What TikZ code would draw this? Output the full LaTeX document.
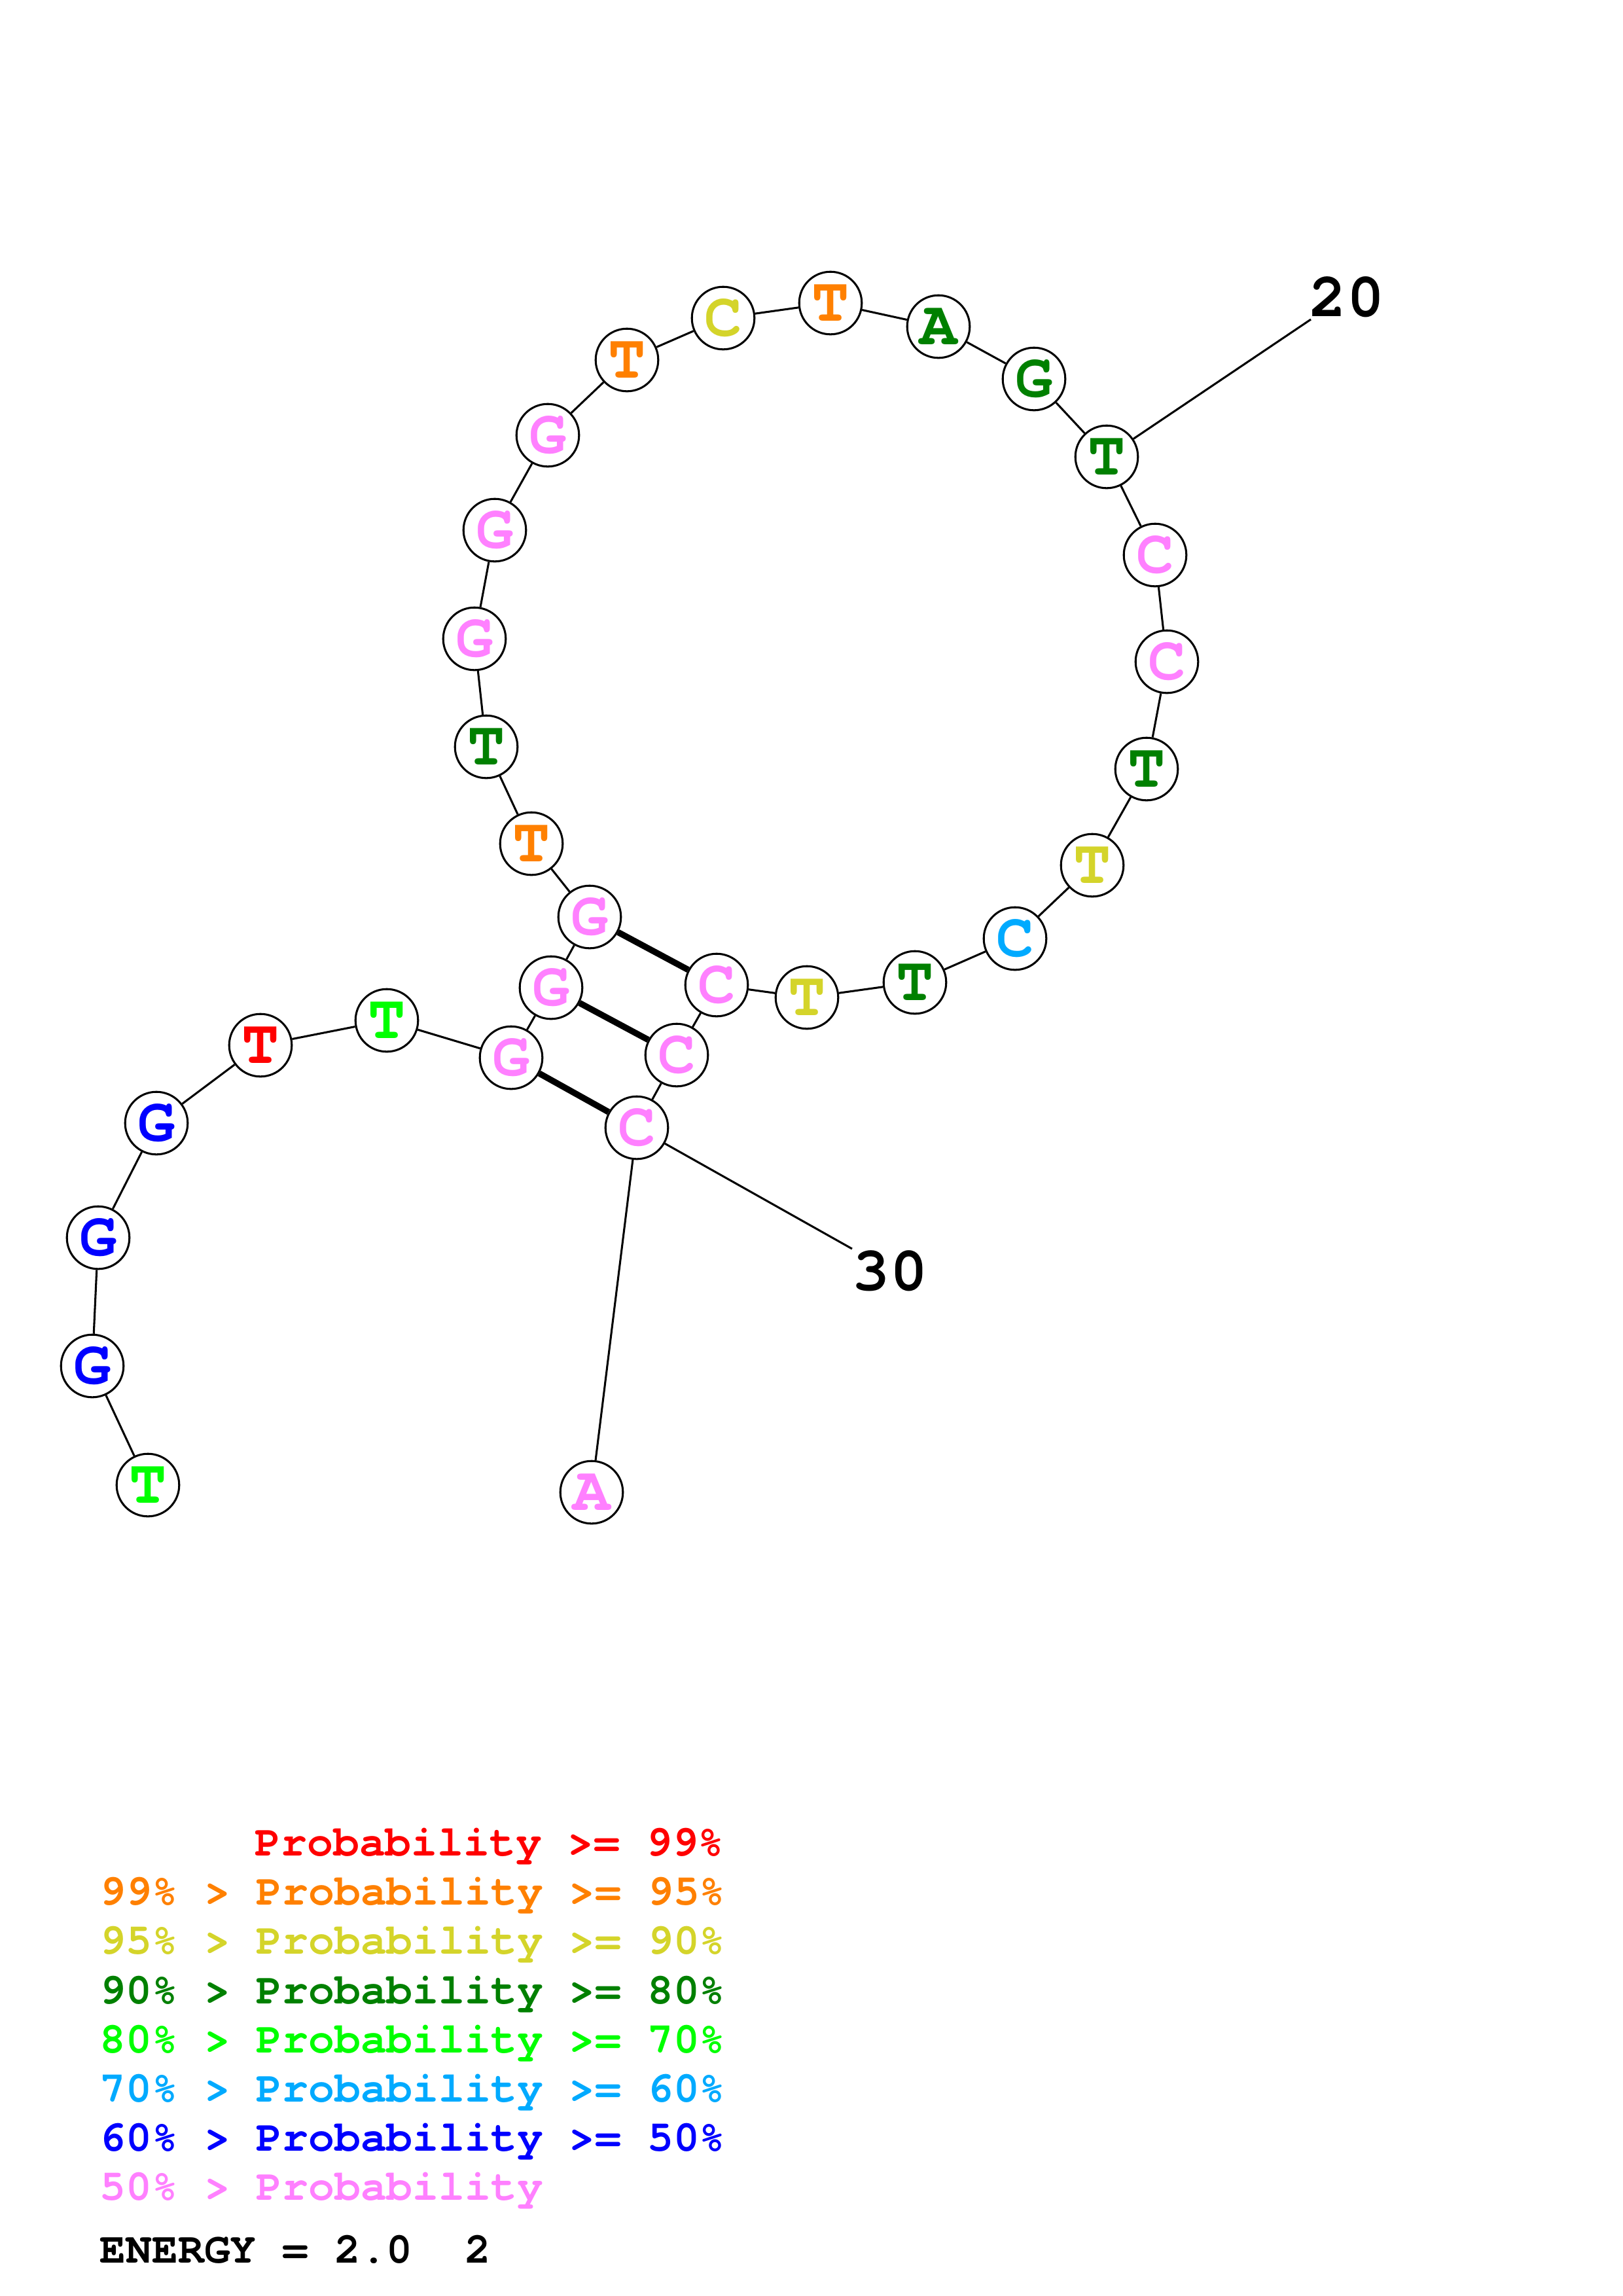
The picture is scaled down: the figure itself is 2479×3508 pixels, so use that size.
\documentclass[tikz,border=0pt]{standalone}
\usepackage{fontspec}
\setmonofont{TeX Gyre Cursor}

\definecolor{pRed}{RGB}{255,0,0}
\definecolor{pOrange}{RGB}{255,128,0}
\definecolor{pYellow}{RGB}{212,212,42}
\definecolor{pDkGreen}{RGB}{0,128,0}
\definecolor{pGreen}{RGB}{0,255,0}
\definecolor{pCyan}{RGB}{0,170,255}
\definecolor{pBlue}{RGB}{0,0,255}
\definecolor{pPink}{RGB}{255,128,255}

\begin{document}
\begin{tikzpicture}[x=0.08471mm,y=-0.08471mm,
    base/.style={circle,draw,fill=white,line width=0.26mm,minimum size=8.1mm,inner sep=0pt,font=\ttfamily\bfseries\fontsize{23}{23}\selectfont},
    numlabel/.style={font=\ttfamily\bfseries\fontsize{23}{23}\selectfont},
    backbone/.style={line width=0.26mm},
    pair/.style={line width=0.8mm},
    legend/.style={anchor=base west,inner sep=0pt,font=\ttfamily\bfseries\fontsize{16}{16}\selectfont}
]
\useasboundingbox (0,0) rectangle (2479,3508);

% Bases 1-31
\node[base,text=pGreen] (n1) at (226,2269) {T};
\node[base,text=pBlue] (n2) at (141,2087) {G};
\node[base,text=pBlue] (n3) at (150,1891) {G};
\node[base,text=pBlue] (n4) at (239,1716) {G};
\node[base,text=pRed] (n5) at (398,1597) {T};
\node[base,text=pGreen] (n6) at (591,1559) {T};
\node[base,text=pPink] (n7) at (781,1616) {G};
\node[base,text=pPink] (n8) at (842,1509) {G};
\node[base,text=pPink] (n9) at (901,1401) {G};
\node[base,text=pOrange] (n10) at (812,1289) {T};
\node[base,text=pDkGreen] (n11) at (743,1141) {T};
\node[base,text=pPink] (n12) at (725,976) {G};
\node[base,text=pPink] (n13) at (756,810) {G};
\node[base,text=pPink] (n14) at (837,665) {G};
\node[base,text=pOrange] (n15) at (958,550) {T};
\node[base,text=pYellow] (n16) at (1105,486) {C};
\node[base,text=pOrange] (n17) at (1269,463) {T};
\node[base,text=pDkGreen] (n18) at (1434,499) {A};
\node[base,text=pDkGreen] (n19) at (1580,579) {G};
\node[base,text=pDkGreen] (n20) at (1691,698) {T};
\node[base,text=pPink] (n21) at (1765,848) {C};
\node[base,text=pPink] (n22) at (1783,1011) {C};
\node[base,text=pDkGreen] (n23) at (1752,1175) {T};
\node[base,text=pYellow] (n24) at (1669,1322) {T};
\node[base,text=pCyan] (n25) at (1551,1434) {C};
\node[base,text=pDkGreen] (n26) at (1398,1501) {T};
\node[base,text=pYellow] (n27) at (1233,1524) {T};
\node[base,text=pPink] (n28) at (1095,1505) {C};
\node[base,text=pPink] (n29) at (1034,1612) {C};
\node[base,text=pPink] (n30) at (973,1723) {C};
\node[base,text=pPink] (n31) at (904,2280) {A};

% Backbone
\draw[backbone] (n1) -- (n2) -- (n3) -- (n4) -- (n5) -- (n6) -- (n7) -- (n8) -- (n9) -- (n10);
\draw[backbone] (n10) -- (n11) -- (n12) -- (n13) -- (n14) -- (n15) -- (n16) -- (n17) -- (n18) -- (n19) -- (n20);
\draw[backbone] (n20) -- (n21) -- (n22) -- (n23) -- (n24) -- (n25) -- (n26) -- (n27) -- (n28) -- (n29) -- (n30);
\draw[backbone] (n30) -- (n31);

% Base pairs
\draw[pair] (n9) -- (n28);
\draw[pair] (n8) -- (n29);
\draw[pair] (n7) -- (n30);

% Position labels
\coordinate (c20) at (2003,488);
\coordinate (c30) at (1302,1908);
\node[numlabel] (lab20) at (2058,454) {20};
\node[numlabel] (lab30) at (1360,1942) {30};
\draw[backbone] (n20) -- (c20);
\draw[backbone] (n30) -- (c30);

% Legend
\node[legend,text=pRed] (leg1) at (389,2835) {Probability >= 99\%};
\node[legend,text=pOrange] (leg2) at (152,2910) {99\% > Probability >= 95\%};
\node[legend,text=pYellow] (leg3) at (152,2985) {95\% > Probability >= 90\%};
\node[legend,text=pDkGreen] (leg4) at (152,3061) {90\% > Probability >= 80\%};
\node[legend,text=pGreen] (leg5) at (152,3136) {80\% > Probability >= 70\%};
\node[legend,text=pCyan] (leg6) at (152,3211) {70\% > Probability >= 60\%};
\node[legend,text=pBlue] (leg7) at (152,3286) {60\% > Probability >= 50\%};
\node[legend,text=pPink] (leg8) at (152,3361) {50\% > Probability};
\node[legend] (energy) at (152,3457) {ENERGY = 2.0\ \ 2};

\end{tikzpicture}
\end{document}
